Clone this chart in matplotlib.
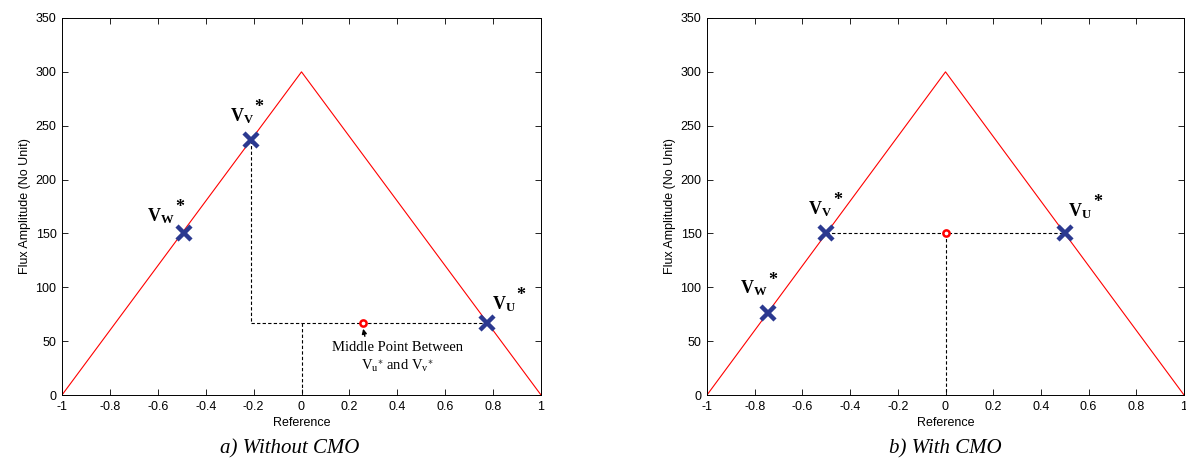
import numpy as np
import matplotlib
matplotlib.use("Agg")
import matplotlib.pyplot as plt

plt.rcParams['font.family'] = ['Liberation Sans', 'DejaVu Sans']
plt.rcParams['mathtext.fontset'] = 'custom'
plt.rcParams['mathtext.rm'] = 'Liberation Serif'
plt.rcParams['mathtext.bf'] = 'Liberation Serif:bold'
plt.rcParams['mathtext.it'] = 'Liberation Serif:italic'

# triangular flux curve
ref_x = [-1, 0, 1]
flux_y = [0, 300, 0]

# a) without CMO
a_names = ['W', 'V', 'U']
a_x = [-0.49, -0.21, 0.775]
a_y = [150, 237, 67]
a_mid = (0.255, 67)
a_label_pos = [(-0.645, 161), (-0.30, 254), (0.795, 80)]

# b) with CMO
b_names = ['W', 'V', 'U']
b_x = [-0.745, -0.50, 0.50]
b_y = [76, 150, 150]
b_mid = (0.0, 150)
b_label_pos = [(-0.86, 94), (-0.575, 168), (0.515, 166)]

xticks = np.round(np.arange(-1, 1.01, 0.2), 1)
yticks = np.arange(0, 351, 50)

fig = plt.figure(figsize=(11.86, 4.61), dpi=100)
ax1 = fig.add_axes([62/1186, 1-395/461, 479/1186, 377/461])
ax2 = fig.add_axes([707/1186, 1-395/461, 477/1186, 377/461])

marker_col = '#2B3990'


def setup(ax):
    ax.plot(ref_x, flux_y, color='red', lw=0.8, zorder=2)
    ax.set_xlim(-1, 1)
    ax.set_ylim(0, 350)
    ax.set_xticks(xticks)
    ax.set_xticklabels([('%g' % t) if t != 0 else '0' for t in xticks])
    ax.set_yticks(yticks)
    ax.tick_params(direction='in', top=True, right=True, labelsize=9,
                   length=4, width=0.6, pad=4)
    for s in ax.spines.values():
        s.set_linewidth(0.7)
    ax.set_xlabel('Reference', fontsize=9, labelpad=3)
    ax.set_ylabel('Flux Amplitude (No Unit)', fontsize=9, labelpad=3)


def draw_points(ax, names, xs, ys, mid, label_pos):
    ax.plot(xs, ys, 'x', color=marker_col, ms=10, mew=3.2, zorder=4)
    ax.plot(*mid, 'o', ms=4.5, mfc='white', mec='red', mew=1.8, zorder=5)
    for n, (lx, ly) in zip(names, label_pos):
        t = ax.text(lx, ly, r'$\mathbf{V_{%s}}$' % n, fontsize=13,
                    ha='left', va='baseline')
        # star sits just right of the label, near its top
        ax.annotate('*', xy=(1, 1), xycoords=t, xytext=(0.5, -1),
                    textcoords='offset points', fontsize=13,
                    fontweight='bold', family='Liberation Serif',
                    ha='left', va='center')


setup(ax1)
setup(ax2)

# a) guides
ax1.plot([a_x[1], a_x[1]], [a_y[1], a_y[2]], 'k--', lw=0.8, dashes=(3, 2))
ax1.plot([a_x[1], a_x[2]], [a_y[2], a_y[2]], 'k--', lw=0.8, dashes=(3, 2))
ax1.plot([0, 0], [a_y[2], 0], 'k--', lw=0.8, dashes=(3, 2))
draw_points(ax1, a_names, a_x, a_y, a_mid, a_label_pos)
ax1.annotate('', xy=(a_mid[0], a_mid[1] - 3), xytext=(a_mid[0] + 0.012, 52),
             arrowprops=dict(arrowstyle='-|>', color='black', lw=1.0,
                             mutation_scale=7))
ax1.text(0.40, 50, 'Middle Point Between\n'
         r'$\mathrm{V_u}^{\ast}$ and $\mathrm{V_v}^{\ast}$',
         fontsize=10.5, family='Liberation Serif', ha='center', va='top',
         linespacing=1.3)

# b) guides
ax2.plot([b_x[1], b_x[2]], [b_y[1], b_y[1]], 'k--', lw=0.8, dashes=(3, 2))
ax2.plot([0, 0], [b_mid[1], 0], 'k--', lw=0.8, dashes=(3, 2))
draw_points(ax2, b_names, b_x, b_y, b_mid, b_label_pos)

fig.text(290/1186, 1-449/461, 'a) Without CMO', fontsize=15,
         family='Liberation Serif', style='italic', ha='center', va='center')
fig.text(945/1186, 1-449/461, 'b) With CMO', fontsize=15,
         family='Liberation Serif', style='italic', ha='center', va='center')

fig.savefig('out.png', dpi=100)
